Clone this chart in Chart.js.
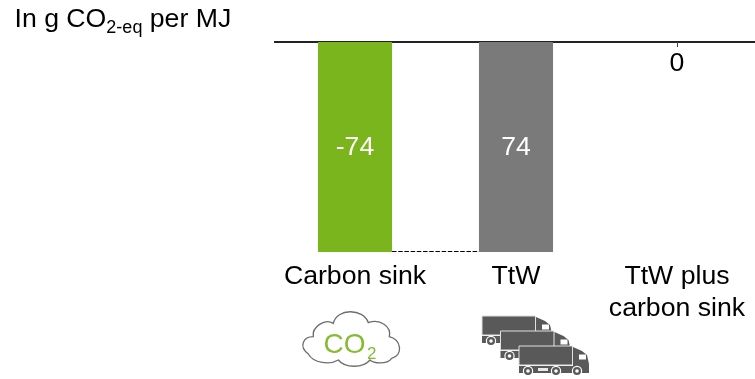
<!DOCTYPE html>
<html><head><meta charset="utf-8">
<script src="https://cdn.jsdelivr.net/npm/chart.js@4"></script>
<style>
html,body{margin:0;padding:0;background:#fff;width:755px;height:379px;overflow:hidden}
#wrap{position:relative;width:755px;height:379px;overflow:hidden}
canvas{position:absolute;left:0;top:0}
#unit{position:absolute;left:14.5px;top:3px;font:26.67px/30px "Liberation Sans",Arial,sans-serif;color:#000;white-space:nowrap}
#unit sub{font-size:18px;line-height:0;vertical-align:-6px}
</style></head><body>
<div id="wrap">
<canvas id="c" width="758" height="379"></canvas>
<div id="unit">In g CO<sub>2-eq</sub> per MJ</div>
</div>
<script>
const categories = [["Carbon sink"], ["TtW"], ["TtW plus", "carbon sink"]];
const shownValues = [-74, 74, 0];
const barFrom = [0, -74, 0];
const barTo = [-74, 0, 0];
const barColors = ["#7AB51D", "#7A7A7A", "#7A7A7A"];
const labelColors = ["#FFFFFF", "#FFFFFF", "#000000"];

const FONT = '"Liberation Sans", Arial, sans-serif';

function drawTruck(ctx, dx, dy) {
  ctx.save();
  ctx.translate(dx, dy);
  ctx.fillStyle = "#595959";
  ctx.strokeStyle = "#E0E0E0";
  ctx.lineWidth = 1;
  ctx.beginPath(); ctx.rect(0, 0, 53.5, 19); ctx.fill(); ctx.stroke();
  ctx.beginPath();
  ctx.moveTo(54, 1); ctx.lineTo(63, 5); ctx.lineTo(68, 9); ctx.lineTo(70, 18);
  ctx.lineTo(70, 27); ctx.lineTo(54, 27); ctx.closePath(); ctx.fill();
  ctx.fillStyle = "#FFFFFF";
  ctx.fillRect(60, 8.5, 7, 5);
  ctx.fillStyle = "#595959";
  ctx.fillRect(0, 20, 70, 7);
  ctx.fillStyle = "#E8E8E8";
  ctx.fillRect(19, 22, 10, 3);
  [9, 37, 58].forEach(x => {
    ctx.beginPath(); ctx.arc(x, 25, 5.2, 0, Math.PI * 2); ctx.fillStyle = "#FFFFFF"; ctx.fill();
    ctx.beginPath(); ctx.arc(x, 25, 4, 0, Math.PI * 2); ctx.fillStyle = "#595959"; ctx.fill();
    ctx.beginPath(); ctx.arc(x, 25, 1.8, 0, Math.PI * 2); ctx.fillStyle = "#FFFFFF"; ctx.fill();
  });
  ctx.restore();
}

function drawCloud(ctx) {
  ctx.save();
  ctx.translate(270, 280);
  ctx.scale(1 / 3, 1 / 3);
  ctx.beginPath();
  ctx.moveTo(115, 222);
  ctx.bezierCurveTo(85, 200, 100, 170, 130, 170);
  ctx.bezierCurveTo(125, 140, 165, 115, 190, 130);
  ctx.bezierCurveTo(200, 84, 280, 84, 295, 128);
  ctx.bezierCurveTo(330, 115, 365, 140, 358, 170);
  ctx.bezierCurveTo(395, 180, 400, 225, 365, 235);
  ctx.bezierCurveTo(350, 255, 310, 250, 300, 240);
  ctx.bezierCurveTo(280, 265, 225, 265, 205, 240);
  ctx.bezierCurveTo(180, 255, 130, 250, 115, 222);
  ctx.closePath();
  ctx.strokeStyle = "#6E6E6E";
  ctx.lineWidth = 4;
  ctx.stroke();
  ctx.restore();
  ctx.save();
  ctx.fillStyle = "#86BC34";
  ctx.textAlign = "left";
  ctx.textBaseline = "alphabetic";
  ctx.font = "28px " + FONT;
  ctx.fillText("CO", 323.5, 353);
  ctx.font = "17px " + FONT;
  ctx.fillText("2", 367, 359);
  ctx.restore();
}

const overlay = {
  id: "overlay",
  beforeDatasetsDraw(chart) {
    const ctx = chart.ctx;
    const y0 = chart.scales.y.getPixelForValue(0);
    ctx.save();
    ctx.strokeStyle = "#222";
    ctx.lineWidth = 2;
    ctx.beginPath();
    ctx.moveTo(chart.chartArea.left - 0.5, y0);
    ctx.lineTo(755, y0);
    ctx.stroke();
    ctx.restore();
  },
  afterDatasetsDraw(chart) {
    const ctx = chart.ctx;
    const y = chart.scales.y;
    const bars = chart.getDatasetMeta(0).data;
    ctx.save();
    ctx.strokeStyle = "#000";
    ctx.lineWidth = 1;
    ctx.setLineDash([4.5, 1.7]);
    const yc = Math.round(y.getPixelForValue(barTo[0])) - 0.5;
    ctx.beginPath();
    ctx.moveTo(bars[0].x + bars[0].width / 2, yc);
    ctx.lineTo(bars[1].x - bars[1].width / 2, yc);
    ctx.stroke();
    ctx.restore();
    // short leader between the axis and the zero label
    ctx.save();
    ctx.strokeStyle = "#444";
    ctx.lineWidth = 1;
    ctx.beginPath();
    ctx.moveTo(Math.round(bars[2].x) + 0.5, y.getPixelForValue(0));
    ctx.lineTo(Math.round(bars[2].x) + 0.5, y.getPixelForValue(0) + 5);
    ctx.stroke();
    ctx.restore();
    ctx.save();
    ctx.font = "26.67px " + FONT;
    ctx.textAlign = "center";
    ctx.textBaseline = "middle";
    shownValues.forEach((v, i) => {
      ctx.fillStyle = labelColors[i];
      const a = y.getPixelForValue(barFrom[i]), b = y.getPixelForValue(barTo[i]);
      const py = a === b ? a + 22 : (a + b) / 2 + 1;
      ctx.fillText(String(v), bars[i].x, py);
    });
    ctx.restore();
    drawCloud(ctx);
    drawTruck(ctx, 482, 316);
    drawTruck(ctx, 500.5, 331);
    drawTruck(ctx, 519, 346);
  }
};

new Chart(document.getElementById("c"), {
  type: "bar",
  data: {
    labels: categories,
    datasets: [{
      data: barFrom.map((f, i) => [f, barTo[i]]),
      backgroundColor: barColors,
      borderWidth: 0,
      borderSkipped: false,
      categoryPercentage: 1,
      barPercentage: 0.46
    }]
  },
  options: {
    responsive: false,
    animation: false,
    layout: { padding: { left: 274.5, right: 0.5, top: 42, bottom: 0 } },
    plugins: { legend: { display: false }, tooltip: { enabled: false }, title: { display: false } },
    scales: {
      x: {
        position: "bottom",
        grid: { display: false, drawTicks: false },
        border: { display: false },
        ticks: {
          color: "#000",
          font: { family: FONT, size: 26.67, lineHeight: 1.19 },
          padding: 9,
          maxRotation: 0,
          autoSkip: false
        },
        afterFit(s) { s.height = 127; }
      },
      y: {
        min: -74,
        max: 0,
        display: true,
        afterFit(s) { s.width = 0; },
        ticks: { display: false, stepSize: 74 },
        border: { display: false },
        grid: { display: false }
      }
    }
  },
  plugins: [overlay]
});
</script>
</body></html>
